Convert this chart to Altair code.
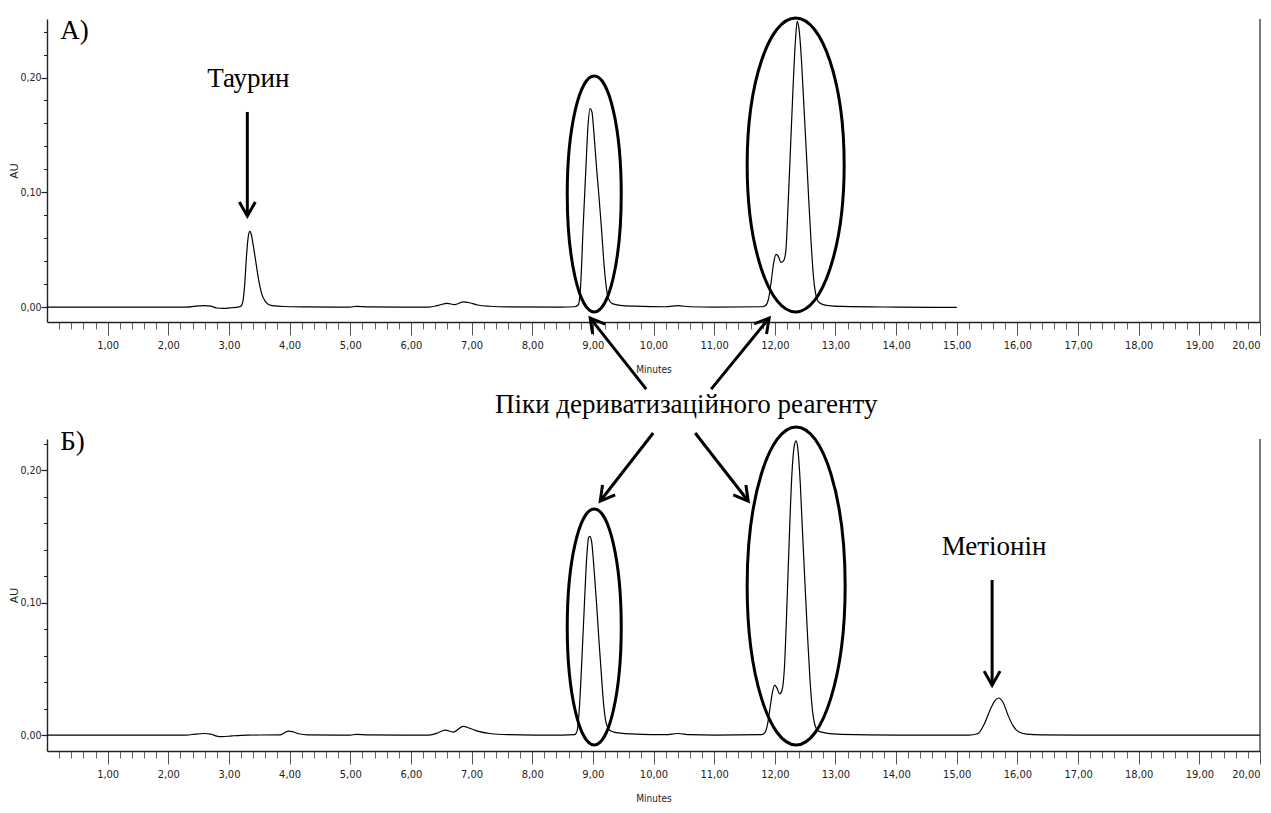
import altair as alt
import pandas as pd

# ---------------- data ----------------
# Panel A (taurine standard): retention time (min) and absorbance (AU)
trace_a = [
    (0.00, 0.0), (2.30, 0.0), (2.45, 0.0008), (2.60, 0.0012), (2.70, 0.0008),
    (2.80, -0.0008), (2.90, -0.0012), (3.05, -0.0006), (3.15, 0.0), (3.20, 0.001),
    (3.23, 0.005), (3.26, 0.020), (3.29, 0.045), (3.32, 0.062), (3.345, 0.066),
    (3.37, 0.063), (3.40, 0.054), (3.43, 0.044), (3.47, 0.030), (3.51, 0.018),
    (3.55, 0.010), (3.60, 0.005), (3.66, 0.002), (3.75, 0.001), (3.90, 0.0005),
    (4.30, 0.0002), (5.00, 0.0), (5.10, 0.0006), (5.30, 0.0001), (6.30, 0.0),
    (6.45, 0.0015), (6.60, 0.0032), (6.72, 0.0022), (6.87, 0.0045), (6.97, 0.0038),
    (7.10, 0.0018), (7.30, 0.0007), (7.60, 0.0002), (8.50, 0.0), (8.70, 0.0003),
    (8.76, 0.002), (8.80, 0.020), (8.84, 0.070), (8.88, 0.115), (8.92, 0.158),
    (8.955, 0.173), (8.985, 0.170), (9.02, 0.150), (9.06, 0.122), (9.10, 0.097),
    (9.14, 0.070), (9.18, 0.040), (9.22, 0.018), (9.26, 0.007), (9.32, 0.003),
    (9.45, 0.0015), (9.70, 0.0008), (10.20, 0.0003), (10.40, 0.0012), (10.60, 0.0003),
    (11.00, 0.0), (11.80, 0.0003), (11.86, 0.002), (11.90, 0.008), (11.94, 0.022),
    (11.98, 0.038), (12.02, 0.046), (12.06, 0.044), (12.10, 0.039), (12.14, 0.040),
    (12.18, 0.048), (12.22, 0.090), (12.26, 0.140), (12.30, 0.190), (12.34, 0.232),
    (12.37, 0.249), (12.40, 0.242), (12.44, 0.215), (12.48, 0.175), (12.52, 0.135),
    (12.56, 0.093), (12.60, 0.055), (12.64, 0.025), (12.68, 0.010), (12.73, 0.004),
    (12.85, 0.0015), (13.10, 0.0006), (14.00, 0.0), (15.00, -0.0003),
]

# Panel B (methionine sample)
trace_b = [
    (0.00, 0.0), (2.30, 0.0), (2.45, 0.0008), (2.60, 0.0012), (2.70, 0.0008),
    (2.80, -0.0008), (2.88, -0.0012), (3.05, -0.0006), (3.30, 0.0), (3.85, 0.0002),
    (3.92, 0.0018), (3.98, 0.0030), (4.05, 0.0026), (4.15, 0.0010), (4.30, 0.0002),
    (5.00, 0.0), (5.10, 0.0005), (5.30, 0.0001), (6.30, 0.0), (6.45, 0.0018),
    (6.56, 0.0038), (6.70, 0.0023), (6.86, 0.0066), (6.98, 0.0050), (7.10, 0.0030),
    (7.30, 0.0012), (7.60, 0.0004), (8.50, 0.0), (8.70, 0.0003), (8.74, 0.003),
    (8.78, 0.022), (8.82, 0.058), (8.86, 0.098), (8.90, 0.135), (8.93, 0.149),
    (8.95, 0.150), (8.98, 0.146), (9.02, 0.125), (9.06, 0.100), (9.10, 0.072),
    (9.14, 0.046), (9.18, 0.022), (9.22, 0.009), (9.27, 0.004), (9.35, 0.0022),
    (9.45, 0.0015), (9.70, 0.0008), (10.20, 0.0003), (10.40, 0.0012), (10.60, 0.0003),
    (11.00, 0.0), (11.78, 0.0003), (11.84, 0.002), (11.88, 0.008), (11.92, 0.020),
    (11.96, 0.032), (12.00, 0.0377), (12.04, 0.035), (12.08, 0.031), (12.12, 0.034),
    (12.16, 0.052), (12.20, 0.098), (12.24, 0.150), (12.28, 0.195), (12.32, 0.218),
    (12.35, 0.222), (12.38, 0.216), (12.42, 0.190), (12.46, 0.150), (12.50, 0.112),
    (12.54, 0.075), (12.58, 0.042), (12.62, 0.019), (12.66, 0.008), (12.72, 0.003),
    (12.85, 0.0015), (13.10, 0.0006), (14.00, 0.0), (15.20, 0.0), (15.35, 0.0012),
    (15.45, 0.008), (15.55, 0.019), (15.63, 0.026), (15.69, 0.028), (15.76, 0.025),
    (15.85, 0.0145), (15.93, 0.007), (16.02, 0.0025), (16.15, 0.0008), (16.40, 0.0002),
    (17.00, 0.0), (20.00, 0.0),
]

x_domain = [0, 20]
y_domain_a = [-0.013, 0.251]
y_domain_b = [-0.012, 0.2234]
x_major_ticks = list(range(1, 21))
x_minor_ticks = [round(i * 0.2, 1) for i in range(1, 101)]
y_major_ticks = [0.0, 0.1, 0.2]
y_minor_ticks_a = [round(i * 0.02, 2) for i in range(0, 13)]
y_minor_ticks_b = [round(i * 0.02, 2) for i in range(0, 12)]

# annotations (data coordinates)
labels_left_a = [{"t": 0.22, "au": 0.2337, "label": "А)"}]
labels_mid_a = [
    {"t": 3.32, "au": 0.1918, "label": "Таурин"},
    {"t": 10.54, "au": -0.0924, "label": "Піки дериватизаційного реагенту"},
]
labels_left_b = [{"t": 0.22, "au": 0.2151, "label": "Б)"}]
labels_mid_b = [{"t": 15.616, "au": 0.1358, "label": "Метіонін"}]

ellipses_a = [
    {"t": 9.023, "au": 0.0985, "rx": 27, "ry": 118},
    {"t": 12.344, "au": 0.1238, "rx": 48.5, "ry": 147},
]
ellipses_b = [
    {"t": 9.023, "au": 0.0815, "rx": 27, "ry": 118},
    {"t": 12.352, "au": 0.1125, "rx": 49, "ry": 159},
]

arrows_a = [
    {"t": 3.303, "au": 0.170, "t2": 3.303, "au2": 0.0793, "ang": 0},
    {"t": 9.880, "au": -0.0715, "t2": 8.957, "au2": -0.0096, "ang": 141.7},
    {"t": 10.951, "au": -0.0715, "t2": 11.907, "au2": -0.0096, "ang": 219.2},
]
arrows_b = [
    {"t": 9.995, "au": 0.2279, "t2": 9.122, "au2": 0.1766, "ang": 37.9},
    {"t": 10.687, "au": 0.2279, "t2": 11.561, "au2": 0.1766, "ang": 322.1},
    {"t": 15.583, "au": 0.117, "t2": 15.583, "au2": 0.0377, "ang": 0},
]

# ---------------- styling ----------------
PLOT_W = 1213
H_A = 303
H_B = 312
SERIF = "Liberation Serif, Times New Roman, serif"
NARROW = "Liberation Sans Narrow, DejaVu Sans Condensed, Liberation Sans, sans-serif"
LABEL_EXPR = "replace(format(datum.value, '.2f'), '.', ',')"
CHEVRON = "M -8 -14 L 0 0 L 8 -14"


def ellipse_path(rx, ry):
    k = 0.5523
    return (
        f"M 0 {-ry:.2f} C {k*rx:.2f} {-ry:.2f} {rx:.2f} {-k*ry:.2f} {rx:.2f} 0 "
        f"C {rx:.2f} {k*ry:.2f} {k*rx:.2f} {ry:.2f} 0 {ry:.2f} "
        f"C {-k*rx:.2f} {ry:.2f} {-rx:.2f} {k*ry:.2f} {-rx:.2f} 0 "
        f"C {-rx:.2f} {-k*ry:.2f} {-k*rx:.2f} {-ry:.2f} 0 {-ry:.2f} Z"
    )


def panel(trace, y_domain, y_minor, height, left_labels, mid_labels, ellipses, arrows):
    df = pd.DataFrame(trace, columns=["t", "au"])
    xs = alt.Scale(domain=x_domain, nice=False, zero=False)
    ys = alt.Scale(domain=y_domain, nice=False, zero=False)

    x_major_axis = alt.Axis(
        orient="bottom", values=x_major_ticks, tickSize=13, tickColor="#555",
        tickWidth=1, domainColor="#222", domainWidth=1.4, labelExpr=LABEL_EXPR,
        labelFont=NARROW, labelFontSize=11, labelColor="#222", labelPadding=4,
        labelFlush=True, labelOverlap=False, grid=False, title="Minutes",
        titleFont=NARROW, titleFontSize=10, titleFontWeight="normal",
        titleColor="#222", titlePadding=14,
    )
    x_minor_axis = alt.Axis(
        orient="bottom", values=x_minor_ticks, tickSize=7, tickColor="#666",
        tickWidth=1, labels=False, domain=False, grid=False, title=None,
    )
    y_major_axis = alt.Axis(
        orient="left", values=y_major_ticks, tickSize=6, tickColor="#222",
        tickWidth=1.2, domainColor="#222", domainWidth=1.4, labelExpr=LABEL_EXPR,
        labelFont=NARROW, labelFontSize=10.5, labelColor="#222", labelPadding=0,
        grid=False, title="AU", titleFont="Liberation Sans, sans-serif",
        titleFontSize=11, titleFontWeight="normal", titleColor="#222",
        titlePadding=0,
    )
    y_minor_axis = alt.Axis(
        orient="left", values=y_minor, tickSize=3.5, tickColor="#222",
        tickWidth=1, labels=False, domain=False, grid=False, title=None,
    )

    line = alt.Chart(df).mark_line(
        color="black", strokeWidth=1.2, interpolate="monotone"
    ).encode(
        x=alt.X("t:Q", scale=xs, axis=x_major_axis),
        y=alt.Y("au:Q", scale=ys, axis=y_major_axis),
    )
    minor = alt.Chart(df).mark_line(opacity=0).encode(
        x=alt.X("t:Q", scale=xs, axis=x_minor_axis),
        y=alt.Y("au:Q", scale=ys, axis=y_minor_axis),
    )

    frame = alt.Chart(
        pd.DataFrame([{"t": x_domain[1], "lo": y_domain[0], "hi": y_domain[1]}])
    ).mark_rule(color="#222", strokeWidth=1.2).encode(
        x=alt.X("t:Q", scale=xs, axis=None),
        y=alt.Y("lo:Q", scale=ys, axis=None),
        y2="hi:Q",
    )

    ell_df = pd.DataFrame(ellipses)
    ell_df["path"] = [ellipse_path(r, q) for r, q in zip(ell_df["rx"], ell_df["ry"])]
    ell = alt.Chart(ell_df).mark_point(
        filled=False, color="black", strokeWidth=3, opacity=1, size=4
    ).encode(
        x=alt.X("t:Q", scale=xs, axis=None),
        y=alt.Y("au:Q", scale=ys, axis=None),
        shape=alt.Shape("path:N", scale=None),
    )

    arr_df = pd.DataFrame(arrows)
    shafts = alt.Chart(arr_df).mark_rule(color="black", strokeWidth=3).encode(
        x=alt.X("t:Q", scale=xs, axis=None),
        y=alt.Y("au:Q", scale=ys, axis=None),
        x2="t2:Q",
        y2="au2:Q",
    )
    heads = alt.Chart(arr_df).mark_point(
        filled=False, color="black", strokeWidth=3, opacity=1, size=4,
        shape=CHEVRON, strokeJoin="miter",
    ).encode(
        x=alt.X("t2:Q", scale=xs, axis=None),
        y=alt.Y("au2:Q", scale=ys, axis=None),
        angle=alt.Angle("ang:Q", scale=None),
    )

    txt_left = alt.Chart(pd.DataFrame(left_labels)).mark_text(
        font=SERIF, fontSize=27, color="black", align="left", baseline="alphabetic"
    ).encode(
        x=alt.X("t:Q", scale=xs, axis=None),
        y=alt.Y("au:Q", scale=ys, axis=None),
        text="label:N",
    )
    txt_mid = alt.Chart(pd.DataFrame(mid_labels)).mark_text(
        font=SERIF, fontSize=27, color="black", align="center", baseline="alphabetic"
    ).encode(
        x=alt.X("t:Q", scale=xs, axis=None),
        y=alt.Y("au:Q", scale=ys, axis=None),
        text="label:N",
    )

    return alt.layer(
        minor, line, frame, ell, shafts, heads, txt_left, txt_mid
    ).resolve_axis(x="independent", y="independent").properties(
        width=PLOT_W, height=height
    )


top = panel(trace_a, y_domain_a, y_minor_ticks_a, H_A, labels_left_a, labels_mid_a,
            ellipses_a, arrows_a)
bottom = panel(trace_b, y_domain_b, y_minor_ticks_b, H_B, labels_left_b, labels_mid_b,
               ellipses_b, arrows_b)

chart = alt.vconcat(top, bottom, spacing=117, bounds="flush").properties(
    padding={"top": 3, "left": 0, "right": 0, "bottom": 0},
    background="white",
).configure_view(stroke=None)

chart.save("out.html", embed_options={"renderer": "svg", "actions": False})
